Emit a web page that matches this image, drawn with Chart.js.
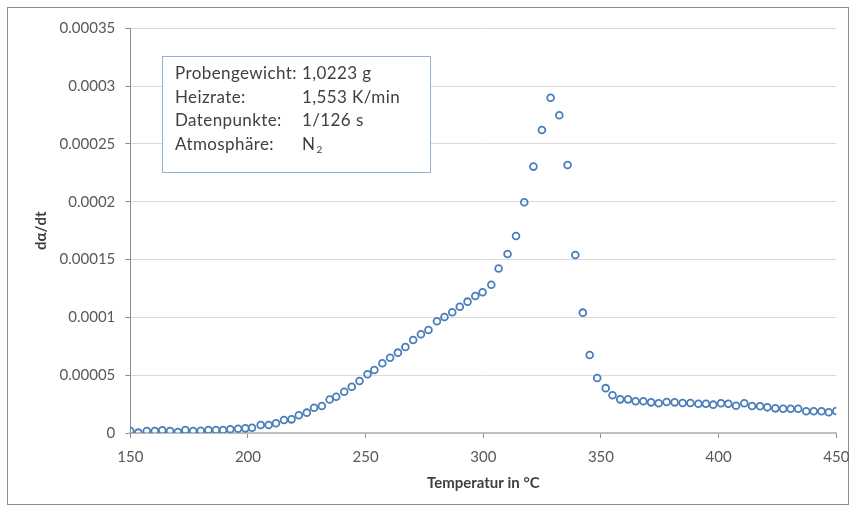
<!DOCTYPE html>
<html lang="de">
<head>
<meta charset="utf-8">
<title>dα/dt über Temperatur</title>
<script src="https://cdn.jsdelivr.net/npm/chart.js@4.4.1/dist/chart.umd.min.js"></script>
<style>
  html, body { margin: 0; padding: 0; background: #ffffff; }
  canvas { display: block; }
</style>
</head>
<body>
<canvas id="chart" width="855" height="511"></canvas>
<script>
// Temperatur in °C
const temperatures = [
  150.0, 153.4, 157.0, 160.4, 163.6, 166.9, 170.2, 173.4, 176.7, 179.9,
  183.2, 186.4, 189.4, 192.5, 195.8, 198.9, 201.7, 205.4, 208.8, 211.9,
  215.3, 218.5, 221.6, 225.0, 228.1, 231.4, 234.7, 237.5, 240.9, 244.1,
  247.4, 250.8, 253.7, 257.1, 260.4, 263.7, 266.9, 270.2, 273.5, 276.7,
  280.3, 283.5, 286.8, 290.0, 293.3, 296.6, 299.7, 303.4, 306.5, 310.3,
  313.9, 317.4, 321.3, 324.9, 328.6, 332.3, 335.8, 339.1, 342.3, 345.2,
  348.4, 352.0, 354.9, 358.2, 361.5, 364.7, 368.0, 371.3, 374.5, 377.9,
  381.3, 384.7, 388.0, 391.4, 394.6, 397.7, 401.0, 404.1, 407.4, 410.9,
  414.2, 417.6, 420.7, 424.1, 427.4, 430.6, 433.8, 437.2, 440.4, 443.7,
  446.8, 450.0
];

// dα/dt in Millionstel (1e-6 pro s)
const rateMicro = [
  1.7, 0.3, 1.7, 1.7, 2.3, 1.7, 0.9, 2.6, 1.7, 2.0,
  2.6, 2.6, 2.6, 3.2, 3.7, 4.0, 4.6, 6.9, 6.9, 8.4,
  11.2, 11.8, 15.3, 17.6, 21.9, 23.4, 29.0, 31.4, 35.7, 40.0,
  45.0, 50.8, 54.5, 60.3, 65.1, 69.5, 74.4, 80.4, 85.4, 89.1,
  96.6, 100.3, 104.4, 109.2, 113.6, 118.5, 121.7, 128.2, 142.3, 154.8,
  170.4, 199.6, 230.4, 262.1, 290.0, 274.8, 231.8, 154.0, 104.1, 67.5,
  47.6, 38.8, 32.6, 29.1, 29.1, 27.4, 27.4, 26.5, 25.7, 26.8,
  26.5, 25.9, 25.9, 25.3, 25.3, 24.5, 25.7, 25.3, 23.6, 25.7,
  23.3, 23.1, 22.2, 21.3, 21.0, 21.0, 21.0, 18.8, 18.8, 18.8,
  17.9, 19.0
];

const xTickValues = [150, 200, 250, 300, 350, 400, 450];
const xTickLabels = ['150', '200', '250', '300', '350', '400', '450'];
const yTickValues = [0, 0.00005, 0.0001, 0.00015, 0.0002, 0.00025, 0.0003, 0.00035];
const yTickLabels = ['0', '0.00005', '0.0001', '0.00015', '0.0002', '0.00025', '0.0003', '0.00035'];

const infoLabels = ['Probengewicht:', 'Heizrate:', 'Datenpunkte:', 'Atmosphäre:'];
const infoValues = ['1,0223 g', '1,553 K/min', '1/126 s', 'N'];
const infoSubscripts = ['', '', '', '2'];

const points = temperatures.map((t, i) => ({ x: t, y: rateMicro[i] * 1e-6 }));

const FONT = 'Lato, "Open Sans", "DejaVu Sans", sans-serif';

// Outer frame around the whole chart
const framePlugin = {
  id: 'frame',
  beforeDraw(chart) {
    const ctx = chart.ctx;
    ctx.save();
    ctx.fillStyle = '#ffffff';
    ctx.fillRect(0, 0, chart.width, chart.height);
    ctx.strokeStyle = '#8c8c8c';
    ctx.lineWidth = 1;
    ctx.strokeRect(7.5, 7.5, 841, 497);
    ctx.restore();
  }
};

// Info box with the measurement parameters
const infoBoxPlugin = {
  id: 'infoBox',
  afterDatasetsDraw(chart) {
    const ctx = chart.ctx;
    ctx.save();
    ctx.fillStyle = '#ffffff';
    ctx.fillRect(162, 56, 269, 117);
    ctx.strokeStyle = '#95b3d7';
    ctx.lineWidth = 1;
    ctx.strokeRect(162.5, 56.5, 268, 116);
    ctx.fillStyle = '#404040';
    ctx.textBaseline = 'middle';
    ctx.textAlign = 'left';
    if ('letterSpacing' in ctx) ctx.letterSpacing = '0.4px';
    const lineY = [74, 97.5, 121, 144.5];
    infoLabels.forEach((label, i) => {
      ctx.font = '17px ' + FONT;
      ctx.fillText(label, 175, lineY[i]);
      ctx.fillText(infoValues[i], 302, lineY[i]);
      if (infoSubscripts[i]) {
        const w = ctx.measureText(infoValues[i]).width;
        ctx.font = '10px ' + FONT;
        ctx.fillText(infoSubscripts[i], 302 + w + 1, lineY[i] + 5);
      }
    });
    ctx.restore();
  }
};

new Chart(document.getElementById('chart'), {
  type: 'scatter',
  data: {
    datasets: [{
      data: points,
      showLine: false,
      pointStyle: 'circle',
      pointRadius: 3.4,
      pointBorderWidth: 1.8,
      pointBorderColor: '#4a7ebb',
      pointBackgroundColor: 'rgba(255,255,255,0)',
      pointHoverRadius: 3.4
    }]
  },
  options: {
    responsive: false,
    animation: false,
    events: [],
    layout: { padding: { left: 0, right: 18.7, top: 28.3, bottom: 0 } },
    plugins: {
      legend: { display: false },
      tooltip: { enabled: false }
    },
    scales: {
      x: {
        type: 'linear',
        min: 150,
        max: 450,
        afterBuildTicks(scale) { scale.ticks = xTickValues.map(v => ({ value: v })); },
        afterFit(scale) {
          scale.height = 78;
          scale.paddingLeft = 0;
          scale.paddingRight = 0;
        },
        ticks: {
          callback: (v, i) => xTickLabels[i],
          color: '#595959',
          font: { family: FONT, size: 15 },
          padding: 10,
          maxRotation: 0,
          autoSkip: false
        },
        grid: {
          drawOnChartArea: false,
          drawTicks: true,
          tickLength: 5,
          tickColor: '#8c8c8c'
        },
        border: { color: '#bfbfbf', width: 2 },
        title: {
          display: true,
          text: 'Temperatur in °C',
          color: '#404040',
          font: { family: FONT, size: 15, weight: 'bold' },
          padding: { top: 0, bottom: 18.7 }
        }
      },
      y: {
        type: 'linear',
        min: 0,
        max: 0.00035,
        afterBuildTicks(scale) { scale.ticks = yTickValues.map(v => ({ value: v })); },
        afterFit(scale) {
          scale.width = 130.3;
          scale.paddingTop = 0;
          scale.paddingBottom = 0;
        },
        ticks: {
          callback: (v, i) => yTickLabels[i],
          color: '#595959',
          font: { family: FONT, size: 15 },
          padding: 10,
          autoSkip: false
        },
        grid: {
          color: '#d9d9d9',
          lineWidth: 1,
          drawTicks: true,
          tickLength: 5,
          tickColor: '#8c8c8c'
        },
        border: { color: '#8c8c8c', width: 1 },
        title: {
          display: true,
          text: 'dα/dt',
          color: '#404040',
          font: { family: FONT, size: 15, weight: 'bold' },
          padding: { top: 32, bottom: 0 }
        }
      }
    }
  },
  plugins: [framePlugin, infoBoxPlugin]
});
</script>
</body>
</html>
